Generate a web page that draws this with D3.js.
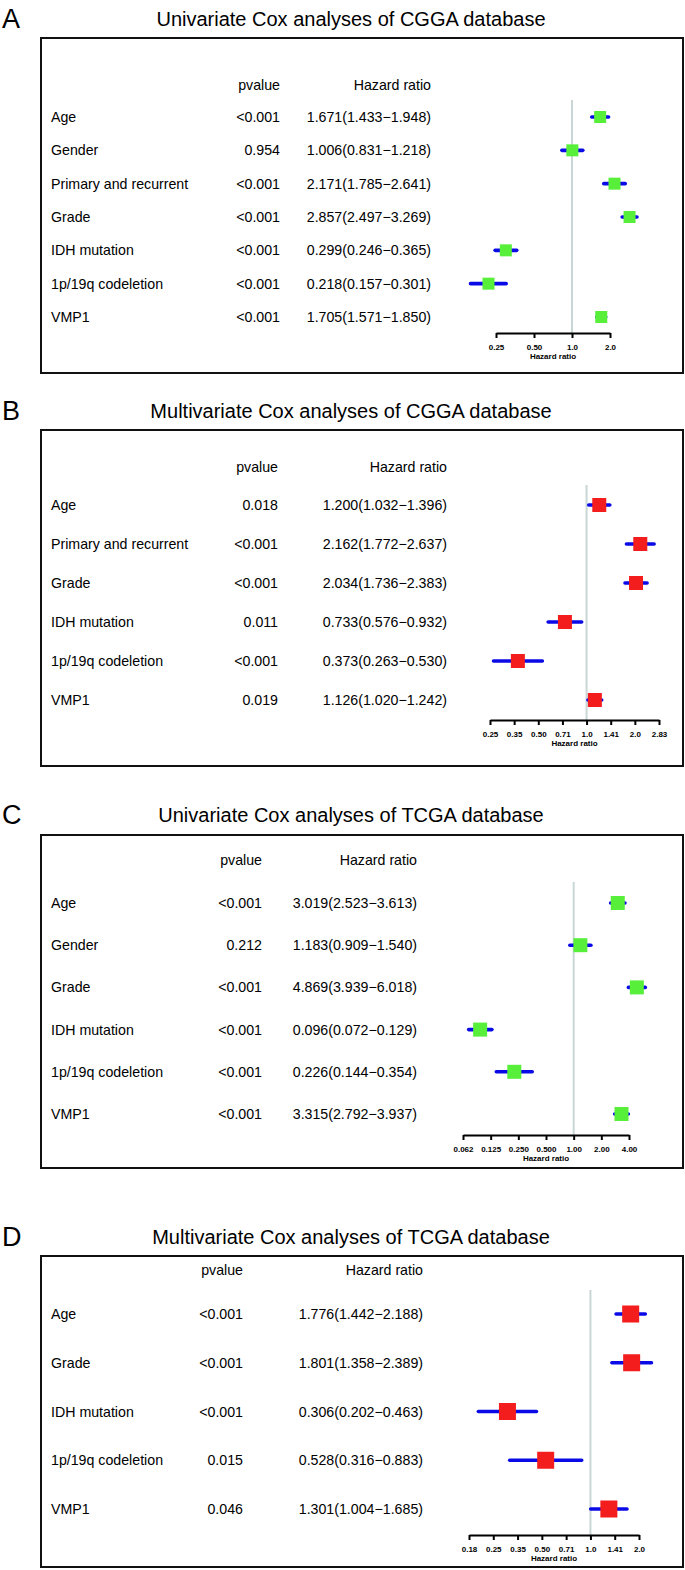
<!DOCTYPE html>
<html><head><meta charset="utf-8">
<script src="https://cdnjs.cloudflare.com/ajax/libs/d3/7.8.5/d3.min.js"></script>
<style>
html,body{margin:0;padding:0;background:#fff;}
svg{display:block;font-family:"Liberation Sans",Arial,Helvetica,sans-serif;}
</style></head>
<body>
<svg id="chart" width="685" height="1570"></svg>
<script>
// ---------- DATA ----------
const titles = [
  "Univariate Cox analyses of CGGA database",
  "Multivariate Cox analyses of CGGA database",
  "Univariate Cox analyses of TCGA database",
  "Multivariate Cox analyses of TCGA database"
];
const panelLetters = ["A","B","C","D"];

const varsA = ["Age","Gender","Primary and recurrent","Grade","IDH mutation","1p/19q codeletion","VMP1"];
const pvalA = ["<0.001","0.954","<0.001","<0.001","<0.001","<0.001","<0.001"];
const hrA   = [1.671,1.006,2.171,2.857,0.299,0.218,1.705];
const loA   = [1.433,0.831,1.785,2.497,0.246,0.157,1.571];
const hiA   = [1.948,1.218,2.641,3.269,0.365,0.301,1.850];

const varsB = ["Age","Primary and recurrent","Grade","IDH mutation","1p/19q codeletion","VMP1"];
const pvalB = ["0.018","<0.001","<0.001","0.011","<0.001","0.019"];
const hrB   = [1.200,2.162,2.034,0.733,0.373,1.126];
const loB   = [1.032,1.772,1.736,0.576,0.263,1.020];
const hiB   = [1.396,2.637,2.383,0.932,0.530,1.242];

const varsC = ["Age","Gender","Grade","IDH mutation","1p/19q codeletion","VMP1"];
const pvalC = ["<0.001","0.212","<0.001","<0.001","<0.001","<0.001"];
const hrC   = [3.019,1.183,4.869,0.096,0.226,3.315];
const loC   = [2.523,0.909,3.939,0.072,0.144,2.792];
const hiC   = [3.613,1.540,6.018,0.129,0.354,3.937];

const varsD = ["Age","Grade","IDH mutation","1p/19q codeletion","VMP1"];
const pvalD = ["<0.001","<0.001","<0.001","0.015","0.046"];
const hrD   = [1.776,1.801,0.306,0.528,1.301];
const loD   = [1.442,1.358,0.202,0.316,1.004];
const hiD   = [2.188,2.389,0.463,0.883,1.685];

const tickValsA = [0.25,0.5,1,2];
const tickLabA  = ["0.25","0.50","1.0","2.0"];
const tickValsB = [0.25,0.3536,0.5,0.7071,1,1.4142,2,2.8284];
const tickLabB  = ["0.25","0.35","0.50","0.71","1.0","1.41","2.0","2.83"];
const tickValsC = [0.0625,0.125,0.25,0.5,1,2,4];
const tickLabC  = ["0.062","0.125","0.250","0.500","1.00","2.00","4.00"];
const tickValsD = [0.1768,0.25,0.3536,0.5,0.7071,1,1.4142,2];
const tickLabD  = ["0.18","0.25","0.35","0.50","0.71","1.0","1.41","2.0"];

// ---------- LAYOUT ----------
const layouts = [
  {titleY:19, boxTop:38, boxBot:373, headY:85, row0:117, rowN:317, refTop:100, axisY:333, pR:280, hrR:431, xr:[496,610], sq:12, fill:"#58ef3a"},
  {titleY:411, boxTop:430, boxBot:766, headY:467, row0:505, rowN:700, refTop:485, axisY:720, pR:278, hrR:447, xr:[490,659], sq:14, fill:"#f41d1d"},
  {titleY:815, boxTop:835, boxBot:1168, headY:860, row0:903, rowN:1114, refTop:882, axisY:1135, pR:262, hrR:417, xr:[463,629], sq:14, fill:"#58ef3a"},
  {titleY:1237, boxTop:1256, boxBot:1567, headY:1270, row0:1314, rowN:1509, refTop:1290, axisY:1535, pR:243, hrR:423, xr:[469,639], sq:17, fill:"#f41d1d"}
];

const panels = [
  {vars:varsA,p:pvalA,hr:hrA,lo:loA,hi:hiA,tv:tickValsA,tl:tickLabA},
  {vars:varsB,p:pvalB,hr:hrB,lo:loB,hi:hiB,tv:tickValsB,tl:tickLabB},
  {vars:varsC,p:pvalC,hr:hrC,lo:loC,hi:hiC,tv:tickValsC,tl:tickLabC},
  {vars:varsD,p:pvalD,hr:hrD,lo:loD,hi:hiD,tv:tickValsD,tl:tickLabD}
];

const svg = d3.select("#chart");
const fmt = d3.format(".3f");
const FS = 14.2;

panels.forEach((P, i) => {
  const L = layouts[i];
  const g = svg.append("g");

  g.append("text").attr("x", 2).attr("y", L.titleY).attr("dominant-baseline","central")
    .attr("font-size", 27).text(panelLetters[i]);
  g.append("text").attr("x", 351).attr("y", L.titleY).attr("dominant-baseline","central")
    .attr("text-anchor","middle").attr("font-size", 20).text(titles[i]);

  g.append("rect").attr("x", 41).attr("y", L.boxTop).attr("width", 683-41).attr("height", L.boxBot-L.boxTop)
    .attr("fill","none").attr("stroke","#111").attr("stroke-width", 2);

  const y = d3.scalePoint().domain(P.vars).range([L.row0, L.rowN]);
  const x = d3.scaleLog().base(2).domain([P.tv[0], P.tv[P.tv.length-1]]).range(L.xr);

  // headers
  g.append("text").attr("x", L.pR).attr("y", L.headY).attr("text-anchor","end")
    .attr("dominant-baseline","central").attr("font-size", FS).text("pvalue");
  g.append("text").attr("x", L.hrR).attr("y", L.headY).attr("text-anchor","end")
    .attr("dominant-baseline","central").attr("font-size", FS).text("Hazard ratio");

  const rows = P.vars.map((v, k) => ({v, p:P.p[k], hr:P.hr[k], lo:P.lo[k], hi:P.hi[k]}));

  g.selectAll("text.lab").data(rows).join("text")
    .attr("x", 51).attr("y", d => y(d.v)).attr("dominant-baseline","central")
    .attr("font-size", FS).text(d => d.v);
  g.selectAll("text.pv").data(rows).join("text")
    .attr("x", L.pR).attr("y", d => y(d.v)).attr("dominant-baseline","central")
    .attr("text-anchor","end").attr("font-size", FS).text(d => d.p);
  g.selectAll("text.hr").data(rows).join("text")
    .attr("x", L.hrR).attr("y", d => y(d.v)).attr("dominant-baseline","central")
    .attr("text-anchor","end").attr("font-size", FS)
    .text(d => `${fmt(d.hr)}(${fmt(d.lo)}\u2212${fmt(d.hi)})`);

  // reference line
  g.append("line").attr("x1", x(1)).attr("x2", x(1)).attr("y1", L.refTop).attr("y2", L.axisY)
    .attr("stroke","#c8d6d6").attr("stroke-width", 2);

  // CI lines
  g.selectAll("line.ci").data(rows).join("line")
    .attr("x1", d => x(d.lo)).attr("x2", d => x(d.hi))
    .attr("y1", d => y(d.v)).attr("y2", d => y(d.v))
    .attr("stroke","#0a0ae6").attr("stroke-width", 3.6).attr("stroke-linecap","round");

  // squares
  g.selectAll("rect.pt").data(rows).join("rect")
    .attr("x", d => x(d.hr) - L.sq/2).attr("y", d => y(d.v) - L.sq/2)
    .attr("width", L.sq).attr("height", L.sq).attr("fill", L.fill);

  // axis
  const ax = d3.axisBottom(x).tickValues(P.tv).tickFormat((d, k) => P.tl[k]).tickSize(5).tickSizeOuter(0);
  const axg = g.append("g").attr("transform", `translate(0,${L.axisY})`).call(ax);
  axg.select(".domain").attr("stroke","#000").attr("stroke-width", 2);
  axg.selectAll(".tick line").attr("stroke","#000").attr("stroke-width", 2);
  axg.selectAll(".tick text").attr("font-size", 8).attr("font-weight","bold")
    .attr("font-family","\"Liberation Sans\",Arial,sans-serif").attr("fill","#000")
    .attr("dy", null).attr("y", 17);
  g.append("text").attr("x", (L.xr[0]+L.xr[1])/2).attr("y", L.axisY + 23)
    .attr("text-anchor","middle").attr("dominant-baseline","central")
    .attr("font-size", 8).attr("font-weight","bold")
    .text("Hazard ratio");
});
</script>
</body></html>
